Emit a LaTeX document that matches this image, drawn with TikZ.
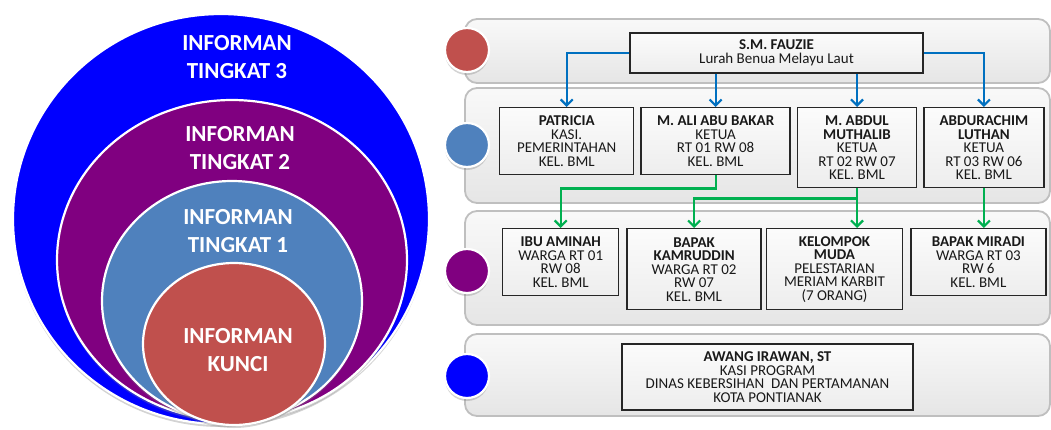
\documentclass[tikz,border=0pt]{standalone}
\usepackage{fontspec}
\setmainfont{Carlito}
\usetikzlibrary{arrows.meta,positioning,shadows}
\definecolor{lingkarmerah}{HTML}{C0504D}
\definecolor{lingkarbiru}{HTML}{4F81BD}
\definecolor{lingkarungu}{HTML}{800080}
\definecolor{lingkarpekat}{HTML}{0000FF}
\definecolor{panahbiru}{HTML}{0070C0}
\definecolor{panahhijau}{HTML}{00B050}
\tikzset{>={Straight Barb[length=6pt,width=12pt]}}

\begin{document}
\begin{tikzpicture}[x=1pt,y=-1pt]
        % lapis = grey band, kotak = name box
        \tikzstyle{lapis}=[draw=gray!50, line width=1.8pt, rounded corners=12pt, top color=gray!5, bottom color=gray!20]
        \tikzstyle{bulat}=[draw=white, line width=2.2pt, drop shadow={shadow xshift=0pt, shadow yshift=-3pt, opacity=0.35}]
        \tikzstyle{kotak}=[draw=black!85, line width=1.4pt, top color=gray!3, bottom color=gray!14, align=center, inner sep=0pt, text=black!90, font=\fontsize{15}{13.5}\selectfont]
        \tikzstyle{judul}=[text=white, align=center, font=\bfseries\fontsize{23}{28}\selectfont]
        \tikzstyle{panahA}=[->, panahbiru, line width=2.2pt]
        \tikzstyle{panahB}=[->, panahhijau, line width=2.2pt]
        \useasboundingbox (0,0) rectangle (1051,429);

        % lingkaran besar
        \path[bulat, fill=lingkarpekat] (221,219) ellipse [x radius=208pt, y radius=205pt];
        \path[bulat, fill=lingkarungu] (232,260) ellipse [x radius=175pt, y radius=160pt];
        \path[bulat, fill=lingkarbiru] (232,301) ellipse [x radius=130pt, y radius=120pt];
        \path[bulat, fill=lingkarmerah] (234,344) ellipse [x radius=91pt, y radius=81pt];
        \node[judul] (T3) at (237,57) {INFORMAN\\TINGKAT 3};
        \node[judul] (T2) at (240,148) {INFORMAN\\TINGKAT 2};
        \node[judul] (T1) at (238,231) {INFORMAN\\TINGKAT 1};
        \node[judul] (TK) at (238,350) {INFORMAN\\KUNCI};

        % lapis kanan
        \path[lapis] (465,19) rectangle (1050,83);
        \path[lapis] (465,88) rectangle (1050,203);
        \path[lapis] (465,211) rectangle (1050,325);
        \path[lapis] (465,334) rectangle (1050,416);
        \path[bulat, fill=lingkarmerah] (467,50) circle [radius=22pt];
        \path[bulat, fill=lingkarbiru] (467,145) circle [radius=22pt];
        \path[bulat, fill=lingkarungu] (467,271) circle [radius=22pt];
        \path[bulat, fill=lingkarpekat] (467,376) circle [radius=22pt];

        \node[kotak, minimum width=293pt, minimum height=40pt] (Fauzie) at (776.5,53) {\textbf{S.M. FAUZIE}\\Lurah Benua Melayu Laut};

        \node[kotak, minimum width=134pt, minimum height=67pt, anchor=north west] (Patricia) at (499,107) {\textbf{PATRICIA}\\KASI.\\PEMERINTAHAN\\KEL. BML};
        \node[kotak, minimum width=149pt, minimum height=67pt, right=6pt of Patricia.north east, anchor=north west] (Ali) {\textbf{M. ALI ABU BAKAR}\\KETUA\\RT 01 RW 08\\KEL. BML};
        \node[kotak, minimum width=119pt, minimum height=80pt, right=6pt of Ali.north east, anchor=north west] (Abdul) {\textbf{M. ABDUL}\\\textbf{MUTHALIB}\\KETUA\\RT 02 RW 07\\KEL. BML};
        \node[kotak, minimum width=120pt, minimum height=80pt, right=6pt of Abdul.north east, anchor=north west] (Abdur) {\textbf{ABDURACHIM}\\\textbf{LUTHAN}\\KETUA\\RT 03 RW 06\\KEL. BML};

        \node[kotak, minimum width=116pt, minimum height=67pt, anchor=north west] (Ibu) at (502,228) {\textbf{IBU AMINAH}\\WARGA RT 01\\RW 08\\KEL. BML};
        \node[kotak, minimum width=134pt, minimum height=81pt, right=7pt of Ibu.north east, anchor=north west] (Kamr) {\textbf{BAPAK}\\\textbf{KAMRUDDIN}\\WARGA RT 02\\RW 07\\KEL. BML};
        \node[kotak, minimum width=136pt, minimum height=81pt, right=4pt of Kamr.north east, anchor=north west] (Kel) {\textbf{KELOMPOK}\\\textbf{MUDA}\\PELESTARIAN\\MERIAM KARBIT\\(7 ORANG)};
        \node[kotak, minimum width=135pt, minimum height=67pt, right=7pt of Kel.north east, anchor=north west] (Miradi) {\textbf{BAPAK MIRADI}\\WARGA RT 03\\RW 6\\KEL. BML};

        \node[kotak, minimum width=291pt, minimum height=66pt] (Awang) at (767.5,377) {\textbf{AWANG IRAWAN, ST}\\KASI PROGRAM\\DINAS KEBERSIHAN~ DAN PERTAMANAN\\KOTA PONTIANAK};

        % panah
        \draw[panahA] (Fauzie.west) -| (Patricia.north);
        \draw[panahA] (Fauzie.south -| Ali.north) -- (Ali.north);
        \draw[panahA] (Fauzie.south -| Abdul.north) -- (Abdul.north);
        \draw[panahA] (Fauzie.east) -| (Abdur.north);
        \draw[panahB] (Ali.south) -- ++(0,13) -| (Ibu.north);
        \draw[panahB] (Abdul.south) -- ++(0,10) -| (Kamr.north);
        \draw[panahB] (Abdul.south) -- (Abdul.south |- Kel.north);
        \draw[panahB] (Abdur.south) -- (Abdur.south |- Miradi.north);
\end{tikzpicture}
\end{document}
